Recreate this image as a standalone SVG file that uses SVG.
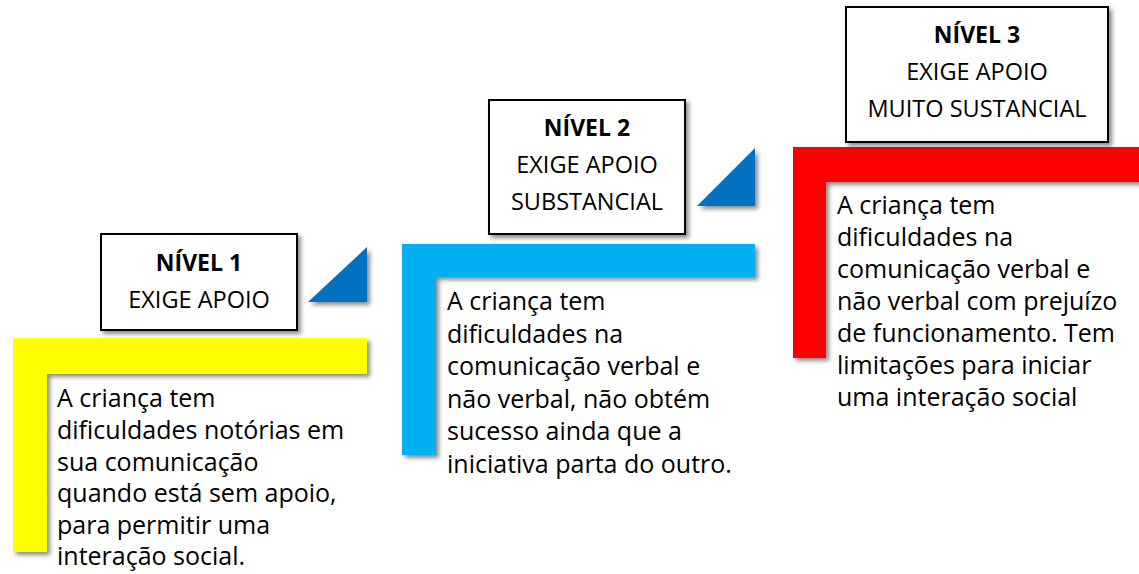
<svg xmlns="http://www.w3.org/2000/svg" width="1139" height="574" viewBox="0 0 1139 574">
  <defs>
    <filter id="sh" x="-10%" y="-10%" width="130%" height="130%">
      <feDropShadow dx="3" dy="3" stdDeviation="2" flood-color="#000" flood-opacity="0.45"/>
    </filter>
  </defs>
  <style>
    .box { fill: #ffffff; stroke: #000000; stroke-width: 2; filter: url(#sh); }
    .tri { fill: #0070C0; filter: url(#sh); }
    .ell { filter: url(#sh); }
    .title { font-family: "Open Sans", "Liberation Sans", sans-serif; font-size: 23px; font-weight: bold; fill: #000; text-anchor: middle; }
    .sub { font-family: "Open Sans", "Liberation Sans", sans-serif; font-size: 23.5px; fill: #000; text-anchor: middle; }
    .body { font-family: "Open Sans", "Liberation Sans", sans-serif; font-size: 25px; fill: #000; }
  </style>
  <rect width="1139" height="574" fill="#ffffff"/>

  <g id="connectors">
    <polygon class="tri" points="308,302 367,247 367,302"/>
    <polygon class="tri" points="697,206 755,148 755,206"/>
  </g>

  <g id="step1">
    <path class="ell" fill="#FFFF00" d="M13,338 H367 V374 H47 V552 H13 Z"/>
    <text class="body">
      <tspan x="57" y="407">A criança tem</tspan>
      <tspan x="57" y="439">dificuldades notórias em</tspan>
      <tspan x="57" y="471">sua comunicação</tspan>
      <tspan x="57" y="502">quando está sem apoio,</tspan>
      <tspan x="57" y="534">para permitir uma</tspan>
      <tspan x="57" y="565">interação social.</tspan>
    </text>
  </g>
  <g id="level1">
    <rect class="box" x="101" y="234" width="196" height="96"/>
    <text class="title" x="199" y="271">NÍVEL 1</text>
    <text class="sub" x="199" y="308">EXIGE APOIO</text>
  </g>

  <g id="step2">
    <path class="ell" fill="#00B0F0" d="M402,244 H755 V277 H436 V455 H402 Z"/>
    <text class="body">
      <tspan x="447" y="310">A criança tem</tspan>
      <tspan x="447" y="342.5">dificuldades na</tspan>
      <tspan x="447" y="375">comunicação verbal e</tspan>
      <tspan x="447" y="407.5">não verbal, não obtém</tspan>
      <tspan x="447" y="440">sucesso ainda que a</tspan>
      <tspan x="447" y="472.5">iniciativa parta do outro.</tspan>
    </text>
  </g>
  <g id="level2">
    <rect class="box" x="489" y="100" width="196" height="134"/>
    <text class="title" x="587" y="136">NÍVEL 2</text>
    <text class="sub" x="587" y="173">EXIGE APOIO</text>
    <text class="sub" x="587" y="210">SUBSTANCIAL</text>
  </g>

  <g id="step3">
    <path class="ell" fill="#FF0000" d="M793,147 H1139 V182 H826 V358 H793 Z"/>
    <text class="body">
      <tspan x="837" y="214">A criança tem</tspan>
      <tspan x="837" y="246">dificuldades na</tspan>
      <tspan x="837" y="278">comunicação verbal e</tspan>
      <tspan x="837" y="310">não verbal com prejuízo</tspan>
      <tspan x="837" y="342">de funcionamento. Tem</tspan>
      <tspan x="837" y="374">limitações para iniciar</tspan>
      <tspan x="837" y="406">uma interação social</tspan>
    </text>
  </g>
  <g id="level3">
    <rect class="box" x="846" y="7" width="262" height="135"/>
    <text class="title" x="977" y="43">NÍVEL 3</text>
    <text class="sub" x="977" y="80">EXIGE APOIO</text>
    <text class="sub" x="977" y="117">MUITO SUSTANCIAL</text>
  </g>
</svg>
